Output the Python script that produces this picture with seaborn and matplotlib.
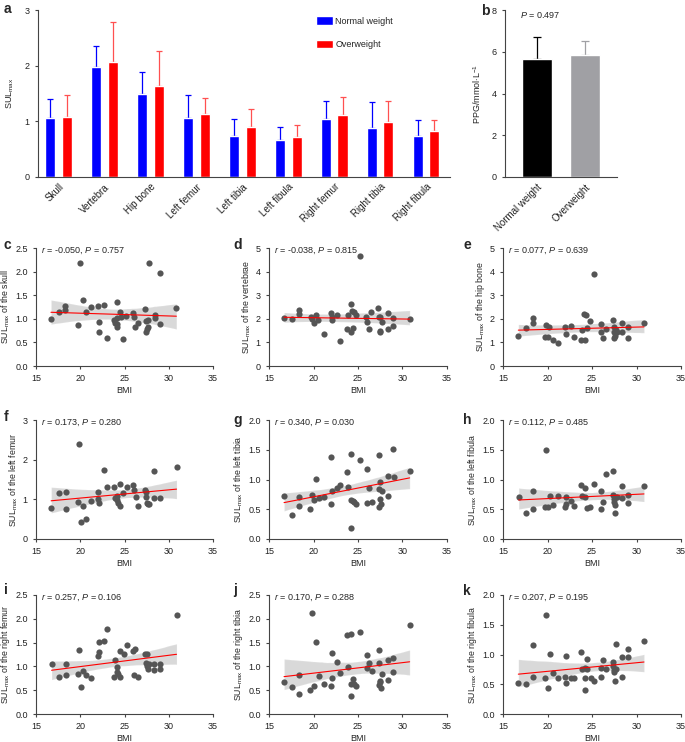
import numpy as np
import pandas as pd
import matplotlib
matplotlib.use("Agg")
import matplotlib.pyplot as plt
import seaborn as sns

# ---- panel a: SULmax by bone site (mean, SD) ----
bones = ["Skull", "Vertebra", "Hip bone", "Left femur", "Left tibia",
         "Left fibula", "Right femur", "Right tibia", "Right fibula"]
normal_mean = [1.06, 1.97, 1.50, 1.06, 0.74, 0.66, 1.04, 0.88, 0.73]
normal_sd = [0.35, 0.39, 0.39, 0.42, 0.30, 0.23, 0.32, 0.47, 0.30]
over_mean = [1.08, 2.06, 1.64, 1.13, 0.90, 0.72, 1.12, 0.98, 0.82]
over_sd = [0.40, 0.73, 0.63, 0.29, 0.33, 0.21, 0.32, 0.39, 0.21]

# ---- panel b: PPG ----
ppg_groups = ["Normal weight", "Overweight"]
ppg_mean = [5.67, 5.86]
ppg_sd = [1.02, 0.67]

# ---- panels c-k: SULmax vs BMI ----
skull_bmi = [16.69, 17.56, 18.31, 18.31, 19.77, 20.0, 20.26, 20.6, 21.2, 21.95, 22.07, 22.1,
             22.67, 23.0, 23.83, 23.9, 24.1, 24.17, 24.17, 24.2, 24.47, 24.55, 24.8, 25.2,
             25.98, 26.05, 26.17, 26.5, 27.33, 27.4, 27.48, 27.52, 27.6, 27.6, 27.74, 28.42,
             28.46, 29.06, 29.0, 30.86]
skull_sul = [0.99, 1.15, 1.27, 1.19, 0.86, 2.18, 1.40, 1.15, 1.25, 1.27, 0.93, 0.72,
             1.30, 0.59, 0.98, 0.92, 1.01, 1.36, 0.89, 0.82, 1.14, 1.03, 0.57, 1.05,
             1.12, 1.03, 0.83, 0.91, 1.21, 0.96, 0.71, 0.78, 0.83, 0.98, 2.18, 1.08,
             1.01, 1.98, 0.89, 1.23]

vert_bmi = [16.69, 17.58, 18.33, 18.33, 19.68, 19.8, 20.02, 20.24, 20.54, 21.22, 22.0, 22.04,
            22.08, 22.6, 22.98, 23.73, 23.9, 24.17, 24.2, 24.35, 24.46, 24.6, 24.8, 25.22,
            25.94, 26.0, 26.2, 26.5, 27.3, 27.34, 27.45, 27.5, 27.5, 27.7, 28.33, 28.36,
            28.96, 28.96, 30.8]
vert_sul = [2.03, 1.98, 2.38, 2.20, 2.07, 1.98, 1.81, 2.17, 1.95, 1.37, 2.24, 2.07,
            1.95, 2.14, 1.08, 1.57, 2.17, 2.63, 1.43, 2.32, 1.60, 2.27, 2.15, 4.65,
            2.07, 1.88, 1.57, 2.28, 2.45, 2.07, 1.50, 1.43, 2.07, 1.88, 2.24, 1.57,
            2.04, 1.70, 1.98]

hip_bmi = [16.72, 17.58, 18.37, 18.37, 19.68, 19.8, 20.02, 20.17, 20.58, 21.22, 22.0, 22.1,
           22.64, 23.0, 23.76, 23.9, 24.12, 24.2, 24.34, 24.46, 24.8, 25.2, 25.98, 26.0,
           26.24, 26.54, 27.4, 27.43, 27.47, 27.5, 27.58, 27.66, 27.8, 28.37, 28.4, 29.04,
           29.08, 30.84]
hip_sul = [1.27, 1.61, 2.03, 1.84, 1.22, 1.74, 1.22, 1.66, 1.10, 0.96, 1.64, 1.36,
           1.71, 1.22, 1.10, 1.53, 2.22, 1.10, 2.17, 1.60, 1.91, 3.91, 1.78, 1.42,
           1.18, 1.57, 1.95, 1.64, 1.18, 1.46, 1.27, 1.53, 1.42, 1.84, 1.43, 1.67,
           1.20, 1.84]

lfemur_bmi = [16.71, 17.62, 18.37, 18.37, 19.72, 19.87, 20.06, 20.32, 20.66, 21.25, 22.04, 22.0,
              22.15, 22.7, 23.0, 23.8, 23.95, 24.2, 24.2, 24.25, 24.5, 24.5, 24.8, 25.26,
              26.0, 26.1, 26.25, 26.55, 27.32, 27.4, 27.47, 27.5, 27.6, 27.73, 28.37, 28.37,
              29.04, 30.88]
lfemur_sul = [0.78, 1.16, 1.19, 0.76, 0.94, 2.39, 0.43, 0.84, 0.50, 0.96, 1.19, 1.00,
              0.90, 1.75, 1.32, 1.30, 1.04, 1.09, 0.98, 0.92, 1.38, 0.82, 1.15, 1.31,
              1.35, 1.23, 1.06, 0.82, 1.24, 1.18, 1.07, 0.92, 0.87, 0.89, 1.71, 1.04,
              1.04, 1.81]

ltibia_bmi = [16.69, 17.55, 18.33, 18.33, 19.64, 19.8, 20.02, 20.25, 20.58, 21.2, 22.0, 21.93,
              22.12, 22.6, 22.98, 23.73, 23.9, 24.17, 24.17, 24.4, 24.6, 24.8, 25.22, 25.97,
              26.05, 26.24, 26.6, 27.4, 27.4, 27.43, 27.4, 27.5, 27.6, 27.73, 28.37, 28.37,
              28.97, 29.0, 30.8, 24.17]
ltibia_sul = [0.73, 0.40, 0.71, 0.55, 0.51, 0.74, 0.66, 1.01, 0.69, 0.71, 1.37, 0.59,
              0.80, 0.85, 0.91, 1.12, 0.87, 1.43, 0.66, 0.64, 0.62, 0.59, 1.33, 1.18,
              0.60, 0.85, 0.63, 1.41, 0.84, 0.68, 0.53, 0.96, 0.59, 0.81, 1.06, 0.73,
              1.52, 1.04, 1.15, 0.18]

lfibula_bmi = [16.76, 17.55, 18.33, 18.37, 19.8, 19.72, 20.06, 20.24, 20.58, 21.2, 22.0, 22.08,
               22.12, 22.6, 23.0, 23.76, 23.9, 24.17, 24.17, 24.46, 24.8, 25.2, 25.97, 26.0,
               26.24, 26.54, 27.4, 27.4, 27.43, 27.47, 27.55, 27.55, 27.66, 27.8, 28.37, 28.37,
               29.04, 29.04, 30.84]
lfibula_sul = [0.70, 0.43, 0.81, 0.50, 1.49, 0.54, 0.54, 0.73, 0.57, 0.72, 0.53, 0.59,
               0.70, 0.64, 0.55, 0.91, 0.73, 0.85, 0.71, 0.52, 0.54, 0.92, 0.81, 0.51,
               0.62, 1.09, 1.15, 0.74, 0.67, 0.62, 0.57, 0.44, 0.71, 0.71, 0.89, 0.69,
               0.74, 0.61, 0.89]

rfemur_bmi = [16.76, 17.62, 18.37, 18.37, 19.72, 19.87, 20.06, 20.32, 20.66, 21.25, 22.0, 22.08,
              22.15, 22.68, 23.05, 23.8, 23.95, 24.2, 24.2, 24.25, 24.48, 24.5, 24.9, 25.26,
              26.0, 26.23, 26.1, 26.55, 27.36, 27.55, 27.43, 27.5, 27.6, 27.73, 28.37, 28.37,
              29.04, 29.04, 30.88]
rfemur_sul = [1.04, 0.77, 1.05, 0.81, 0.85, 1.34, 0.56, 0.91, 0.81, 0.75, 1.22, 1.30,
              1.51, 1.53, 1.78, 0.78, 1.14, 0.99, 0.89, 0.85, 1.33, 0.78, 1.27, 1.44,
              1.32, 1.37, 0.82, 0.77, 1.27, 1.27, 1.08, 1.00, 0.94, 1.05, 1.06, 0.93,
              1.04, 0.95, 2.08]

rtibia_bmi = [16.69, 17.55, 18.33, 18.33, 19.64, 19.8, 20.02, 20.25, 20.58, 21.2, 21.93, 22.04,
              22.12, 22.6, 22.98, 23.73, 23.9, 24.17, 24.17, 24.17, 24.4, 24.5, 24.8, 25.22,
              25.97, 26.05, 26.24, 26.54, 27.4, 27.36, 27.43, 27.4, 27.5, 27.58, 27.73, 28.37,
              28.37, 28.97, 28.97, 30.8]
rtibia_sul = [0.67, 0.57, 0.82, 0.42, 0.50, 2.13, 0.58, 1.51, 0.80, 0.64, 0.58, 1.29,
              0.76, 1.10, 0.87, 1.65, 0.98, 1.69, 0.62, 0.38, 0.73, 0.64, 0.59, 1.73,
              1.24, 0.96, 1.08, 0.90, 1.35, 1.08, 0.69, 0.60, 0.67, 0.54, 0.84, 1.13,
              0.71, 1.18, 0.89, 1.88]

rfibula_bmi = [16.72, 17.58, 18.33, 18.37, 19.72, 19.83, 20.06, 20.28, 20.58, 21.2, 22.0, 22.04,
               22.12, 22.6, 23.0, 23.8, 23.9, 24.17, 24.2, 24.2, 24.46, 24.46, 24.85, 25.26,
               25.97, 26.05, 26.24, 26.54, 27.4, 27.4, 27.47, 27.5, 27.55, 27.66, 27.73, 28.4,
               28.4, 29.04, 29.04, 30.84]
rfibula_sul = [0.52, 0.51, 1.16, 0.62, 0.60, 1.66, 0.43, 1.01, 0.69, 0.60, 0.63, 0.97,
               0.52, 0.60, 0.61, 1.05, 0.75, 0.78, 0.60, 0.40, 0.92, 0.76, 0.60, 0.56,
               0.63, 0.77, 0.91, 0.76, 0.87, 0.80, 0.74, 0.70, 0.56, 0.76, 1.18, 0.96,
               0.63, 1.09, 0.96, 1.22]

sns.set_style("ticks")
plt.rcParams["font.family"] = ["Liberation Sans", "DejaVu Sans"]
plt.rcParams["mathtext.fontset"] = "custom"
plt.rcParams["mathtext.rm"] = "Liberation Sans"
plt.rcParams["mathtext.it"] = "Liberation Sans:italic"
plt.rcParams["font.size"] = 6.5
plt.rcParams["axes.edgecolor"] = "#444444"
plt.rcParams["axes.linewidth"] = 0.8
plt.rcParams["xtick.color"] = "#444444"
plt.rcParams["ytick.color"] = "#444444"
plt.rcParams["xtick.labelcolor"] = "#222222"
plt.rcParams["ytick.labelcolor"] = "#222222"
plt.rcParams["xtick.major.size"] = 2.5
plt.rcParams["ytick.major.size"] = 2.5

W, H = 685, 742
fig = plt.figure(figsize=(W / 100, H / 100), dpi=100)


def box(left, top, right, bottom):
    return [left / W, 1 - bottom / H, (right - left) / W, (bottom - top) / H]


def style_axes(ax):
    sns.despine(ax=ax)
    ax.tick_params(labelsize=6.5, width=0.8)


# ---- panel a ----
ax_a = fig.add_axes(box(38, 10, 450, 177))
df_a = pd.DataFrame({
    "bone": bones * 2,
    "group": ["Normal weight"] * len(bones) + ["Overweight"] * len(bones),
    "sul": normal_mean + over_mean,
})
sns.barplot(data=df_a, x="bone", y="sul", hue="group", order=bones,
            palette={"Normal weight": "#0000ff", "Overweight": "#ff0000"},
            width=0.72, gap=0.39, errorbar=None, saturation=1, ax=ax_a)
for cont, sds, col in zip(ax_a.containers, [normal_sd, over_sd], ["#0000ff", "#ff5050"]):
    for bar, sd in zip(cont, sds):
        xc = bar.get_x() + bar.get_width() / 2
        ax_a.errorbar(xc, bar.get_height(), yerr=[[0], [sd]], color=col,
                      capsize=2.5, elinewidth=0.9, capthick=0.9, zorder=0)
ax_a.set_ylim(0, 3)
ax_a.set_yticks([0, 1, 2, 3])
ax_a.set_xlim(-0.45, 8.52)
ax_a.set_xlabel("")
ax_a.set_ylabel(r"SUL$_{\mathrm{max}}$", fontsize=6.5, labelpad=6)
style_axes(ax_a)
ax_a.tick_params(axis="x", length=0, labelsize=7)
for lab in ax_a.get_xticklabels():
    lab.set_rotation(45)
    lab.set_ha("right")
    lab.set_rotation_mode("anchor")
leg = ax_a.legend(loc="upper left", bbox_to_anchor=(0.665, 0.985), frameon=False,
                  fontsize=6.5, labelspacing=1.55, handlelength=1.9, handleheight=1.1,
                  handletextpad=0.3, borderaxespad=0)

# ---- panel b ----
ax_b = fig.add_axes(box(505, 10, 617, 177))
df_b = pd.DataFrame({"group": ppg_groups, "ppg": ppg_mean})
sns.barplot(data=df_b, x="group", y="ppg", hue="group",
            palette={"Normal weight": "#000000", "Overweight": "#a0a0a4"},
            width=0.62, errorbar=None, saturation=1, legend=False, ax=ax_b)
for cont, sd, col in zip(ax_b.containers, ppg_sd, ["#000000", "#a0a0a4"]):
    for bar in cont:
        xc = bar.get_x() + bar.get_width() / 2
        ax_b.errorbar(xc, bar.get_height(), yerr=[[0], [sd]], color=col,
                      capsize=3, elinewidth=0.9, capthick=0.9, zorder=0)
ax_b.set_ylim(0, 8)
ax_b.set_yticks([0, 2, 4, 6, 8])
ax_b.set_xlim(-0.66, 1.66)
ax_b.set_xlabel("")
ax_b.set_ylabel(r"PPG/mmol$\cdot$L$^{-1}$", fontsize=6.5, labelpad=6)
style_axes(ax_b)
ax_b.tick_params(axis="x", length=0, labelsize=7)
for lab in ax_b.get_xticklabels():
    lab.set_rotation(45)
    lab.set_ha("right")
    lab.set_rotation_mode("anchor")
ax_b.text(0.13, 0.97, r"$\it{P}$ = 0.497", transform=ax_b.transAxes,
          fontsize=6.5, va="center", ha="left")

# ---- panels c-k ----
scatter_panels = [
    ("c", skull_bmi, skull_sul, "skull", (0, 2.5), 0.5, "-0.050", "0.757"),
    ("d", vert_bmi, vert_sul, "vertebrae", (0, 5), 1, "-0.038", "0.815"),
    ("e", hip_bmi, hip_sul, "hip bone", (0, 5), 1, "0.077", "0.639"),
    ("f", lfemur_bmi, lfemur_sul, "left femur", (0, 3), 1, "0.173", "0.280"),
    ("g", ltibia_bmi, ltibia_sul, "left tibia", (0, 2), 0.5, "0.340", "0.030"),
    ("h", lfibula_bmi, lfibula_sul, "left fibula", (0, 2), 0.5, "0.112", "0.485"),
    ("i", rfemur_bmi, rfemur_sul, "right femur", (0, 2.5), 0.5, "0.257", "0.106"),
    ("j", rtibia_bmi, rtibia_sul, "right tibia", (0, 2.5), 0.5, "0.170", "0.288"),
    ("k", rfibula_bmi, rfibula_sul, "right fibula", (0, 2), 0.5, "0.207", "0.195"),
]
col_lr = [(36, 213), (269, 447), (503, 681)]
row_tb = [(248, 366), (420, 539), (595, 714)]
label_x = [4, 233, 463]
label_y = [[245, 245, 245], [417, 420, 420], [590, 590, 591]]

for i, (letter, bx, sy, site, ylim, step, r, p) in enumerate(scatter_panels):
    left, right = col_lr[i % 3]
    top, bottom = row_tb[i // 3]
    ax = fig.add_axes(box(left, top, right, bottom))
    xv, yv = np.array(bx), np.array(sy)
    # grey confidence band (invisible line), then points and red fit line
    sns.regplot(x=xv, y=yv, ax=ax, ci=95, seed=0, scatter=False, color="black",
                line_kws={"lw": 0, "alpha": 0})
    sns.regplot(x=xv, y=yv, ax=ax, ci=None,
                scatter_kws={"color": "#555555", "s": 20, "alpha": 1, "linewidths": 0,
                             "zorder": 3},
                line_kws={"color": "#ff0000", "lw": 0.8, "zorder": 4})
    ax.set_xlim(15, 35)
    ax.set_xticks([15, 20, 25, 30, 35])
    ax.set_ylim(*ylim)
    ticks = np.arange(ylim[0], ylim[1] + step / 2, step)
    ax.set_yticks(ticks)
    if step < 1:
        ax.set_yticklabels([f"{t:.1f}" for t in ticks])
    ax.set_xlabel("BMI", fontsize=6.5, labelpad=2)
    ax.set_ylabel(r"SUL$_{\mathrm{max}}$ of the " + site, fontsize=6.3, labelpad=2)
    style_axes(ax)
    ax.text(0.03, 0.98, rf"$\it{{r}}$ = {r}, $\it{{P}}$ = {p}", transform=ax.transAxes,
            fontsize=6.5, va="center", ha="left")
    fig.text(label_x[i % 3] / W, 1 - label_y[i // 3][i % 3] / H, letter, fontsize=10,
             fontweight="bold", va="center", ha="left")

fig.text(4 / W, 1 - 9 / H, "a", fontsize=10, fontweight="bold", va="center", ha="left")
fig.text(481 / W, 1 - 11 / H, "b", fontsize=10, fontweight="bold", va="center", ha="left")

fig.savefig("out.png", dpi=100)
